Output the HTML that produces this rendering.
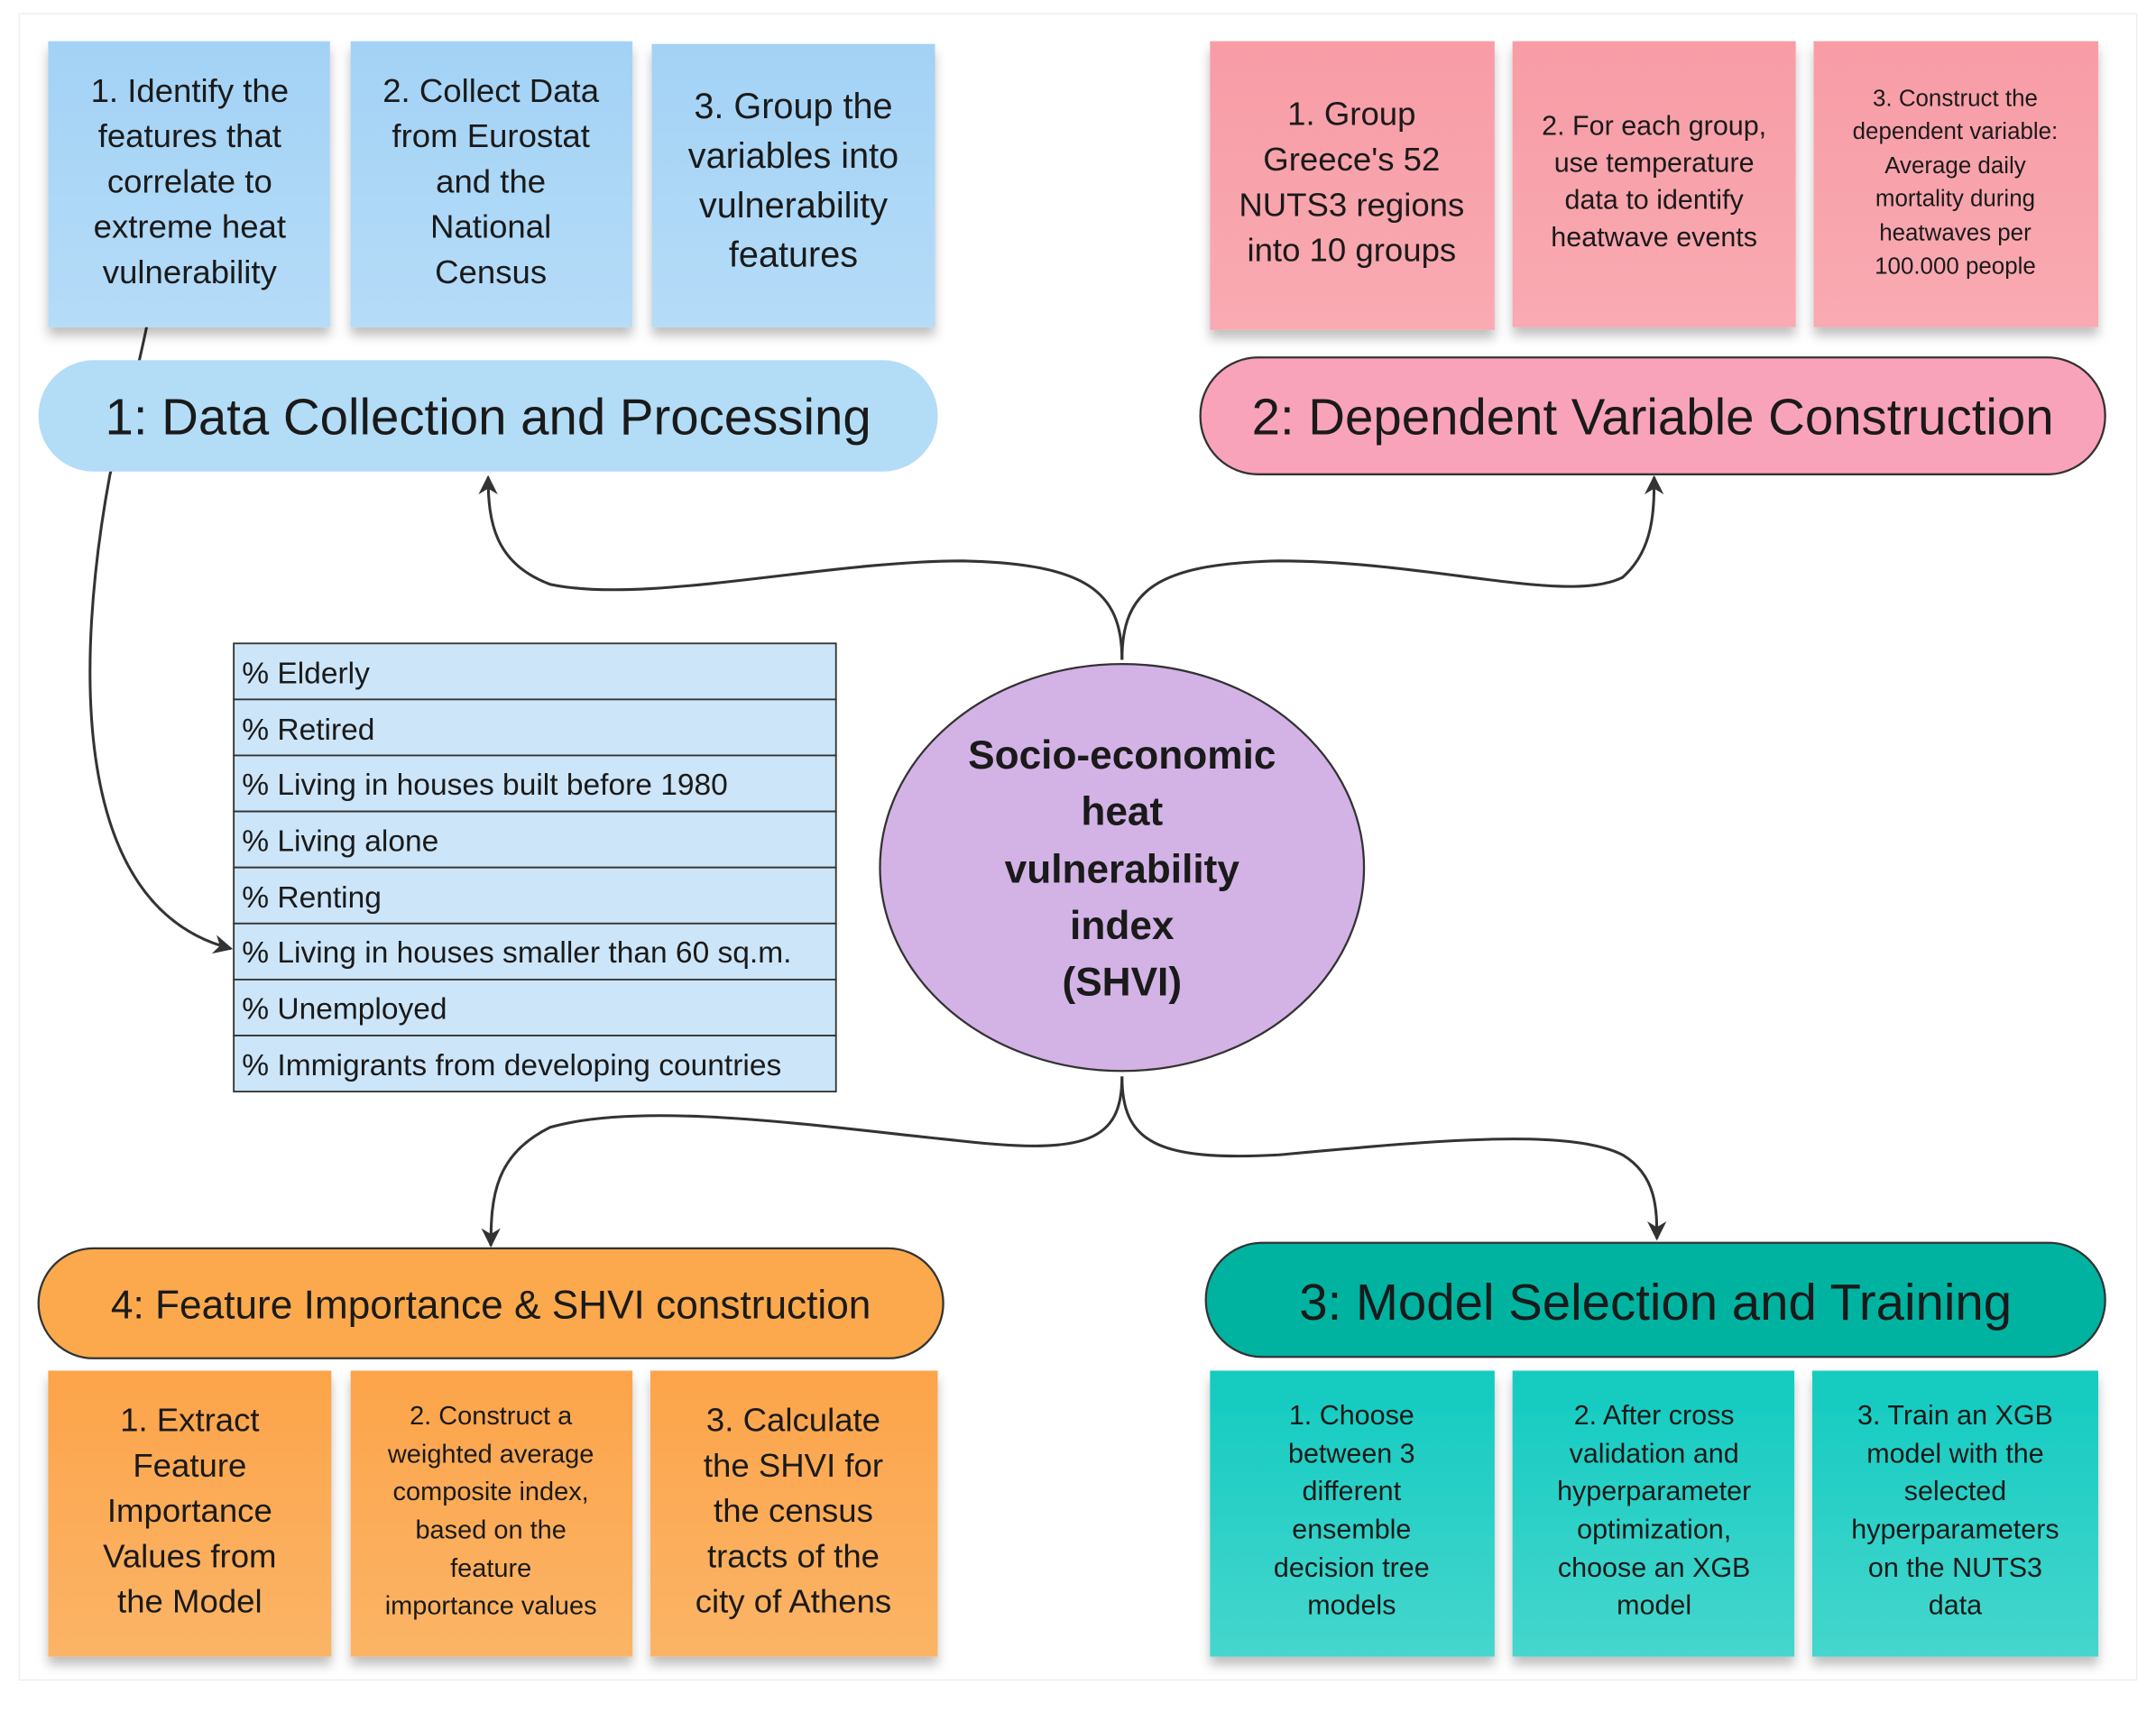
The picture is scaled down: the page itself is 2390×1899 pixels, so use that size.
<!DOCTYPE html>
<html><head><meta charset="utf-8"><style>
html,body{margin:0;padding:0;background:#fff}
svg{display:block}
text{font-family:"Liberation Sans","DejaVu Sans",sans-serif;fill:#1a1a1a}
</style></head><body>
<svg width="2390" height="1899" viewBox="0 0 1568 1246" preserveAspectRatio="none" xmlns="http://www.w3.org/2000/svg">
<defs>
<linearGradient id="gb" x1="0" y1="0" x2="0" y2="1"><stop offset="0" stop-color="#a3d2f5"/><stop offset="1" stop-color="#b5dcf8"/></linearGradient>
<linearGradient id="gp" x1="0" y1="0" x2="0" y2="1"><stop offset="0" stop-color="#f89ca6"/><stop offset="1" stop-color="#f9aab2"/></linearGradient>
<linearGradient id="go" x1="0" y1="0" x2="0" y2="1"><stop offset="0" stop-color="#fca44a"/><stop offset="1" stop-color="#fbb466"/></linearGradient>
<linearGradient id="gt" x1="0" y1="0" x2="0" y2="1"><stop offset="0" stop-color="#12cbc0"/><stop offset="1" stop-color="#45d6cd"/></linearGradient>
<filter id="sh" x="-10%" y="-10%" width="120%" height="130%"><feDropShadow dx="0" dy="6" stdDeviation="4" flood-color="#000" flood-opacity="0.25"/></filter>
<marker id="ar" viewBox="0 0 10 10" refX="9" refY="5" markerWidth="7" markerHeight="7" orient="auto"><path d="M0,0 L10,5 L0,10 L3,5 z" fill="#333"/></marker>
</defs>
<rect x="14" y="10" width="1540" height="1212" fill="#fff" stroke="#eee"/>

<g fill="none" stroke="#333" stroke-width="2">
<path d="M816,480 C816,430 790,410 700,408 C600,408 470,440 400,425 C360,410 355,380 355,347" marker-end="url(#ar)"/>
<path d="M816,480 C816,430 840,410 930,408 C1040,408 1140,440 1180,420 C1203,400 1203,370 1203,347" marker-end="url(#ar)"/>
<path d="M816,783 C816,830 790,840 700,830 C600,820 470,800 400,820 C360,840 357,870 357,906" marker-end="url(#ar)"/>
<path d="M816,783 C816,830 840,845 930,840 C1040,830 1140,820 1180,840 C1205,855 1205,880 1205,901" marker-end="url(#ar)"/>
<path d="M107,236 C100,270 90,310 80,345 C55,480 50,660 168,690" marker-end="url(#ar)"/>
</g>

<g filter="url(#sh)">
<rect x="35" y="30" width="205" height="208" fill="url(#gb)"/>
<rect x="255" y="30" width="205" height="208" fill="url(#gb)"/>
<rect x="474" y="32" width="206" height="206" fill="url(#gb)"/>
<rect x="880" y="30" width="207" height="210" fill="url(#gp)"/>
<rect x="1100" y="30" width="206" height="208" fill="url(#gp)"/>
<rect x="1319" y="30" width="207" height="208" fill="url(#gp)"/>
<rect x="35" y="997" width="206" height="208" fill="url(#go)"/>
<rect x="255" y="997" width="205" height="208" fill="url(#go)"/>
<rect x="473" y="997" width="209" height="208" fill="url(#go)"/>
<rect x="880" y="997" width="207" height="208" fill="url(#gt)"/>
<rect x="1100" y="997" width="205" height="208" fill="url(#gt)"/>
<rect x="1318" y="997" width="208" height="208" fill="url(#gt)"/>
</g>
<g font-size="24" text-anchor="middle">
<text x="138" y="74">1. Identify the</text><text x="138" y="107">features that</text><text x="138" y="140">correlate to</text><text x="138" y="173">extreme heat</text><text x="138" y="206">vulnerability</text>
<text x="357" y="74">2. Collect Data</text><text x="357" y="107">from Eurostat</text><text x="357" y="140">and the</text><text x="357" y="173">National</text><text x="357" y="206">Census</text>
<text x="577" y="86" font-size="26">3. Group the</text><text x="577" y="122" font-size="26">variables into</text><text x="577" y="158" font-size="26">vulnerability</text><text x="577" y="194" font-size="26">features</text>
<text x="983" y="91">1. Group</text><text x="983" y="124">Greece's 52</text><text x="983" y="157">NUTS3 regions</text><text x="983" y="190">into 10  groups</text>
<text x="1203" y="98" font-size="20">2. For each group,</text><text x="1203" y="125" font-size="20">use temperature</text><text x="1203" y="152" font-size="20">data to identify</text><text x="1203" y="179" font-size="20">heatwave events</text>
<text x="1422" y="77" font-size="17">3. Construct the</text><text x="1422" y="101" font-size="17">dependent variable:</text><text x="1422" y="126" font-size="17">Average daily</text><text x="1422" y="150" font-size="17">mortality during</text><text x="1422" y="175" font-size="17">heatwaves per</text><text x="1422" y="199" font-size="17">100.000 people</text>
<text x="138" y="1041">1. Extract</text><text x="138" y="1074">Feature</text><text x="138" y="1107">Importance</text><text x="138" y="1140">Values from</text><text x="138" y="1173">the Model</text>
<text x="357" y="1036" font-size="19">2. Construct a</text><text x="357" y="1064" font-size="19">weighted average</text><text x="357" y="1091" font-size="19">composite index,</text><text x="357" y="1119" font-size="19">based on the</text><text x="357" y="1147" font-size="19">feature</text><text x="357" y="1174" font-size="19">importance values</text>
<text x="577" y="1041">3. Calculate</text><text x="577" y="1074">the SHVI for</text><text x="577" y="1107">the census</text><text x="577" y="1140">tracts of the</text><text x="577" y="1173">city of Athens</text>
<text x="983" y="1036" font-size="20">1. Choose</text><text x="983" y="1064" font-size="20">between 3</text><text x="983" y="1091" font-size="20">different</text><text x="983" y="1119" font-size="20">ensemble</text><text x="983" y="1147" font-size="20">decision tree</text><text x="983" y="1174" font-size="20">models</text>
<text x="1203" y="1036" font-size="20">2. After cross</text><text x="1203" y="1064" font-size="20">validation and</text><text x="1203" y="1091" font-size="20">hyperparameter</text><text x="1203" y="1119" font-size="20">optimization,</text><text x="1203" y="1147" font-size="20">choose an XGB</text><text x="1203" y="1174" font-size="20">model</text>
<text x="1422" y="1036" font-size="20">3. Train an XGB</text><text x="1422" y="1064" font-size="20">model with the</text><text x="1422" y="1091" font-size="20">selected</text><text x="1422" y="1119" font-size="20">hyperparameters</text><text x="1422" y="1147" font-size="20">on the NUTS3</text><text x="1422" y="1174" font-size="20">data</text>
</g>

<rect x="28" y="262" width="654" height="81" rx="40" fill="#b3dcf7"/>
<text x="355" y="316" font-size="37" text-anchor="middle">1: Data Collection and Processing</text>
<rect x="873" y="260" width="658" height="85" rx="42" fill="#f9a3bb" stroke="#333" stroke-width="1.5"/>
<text x="1202" y="316" font-size="37" text-anchor="middle">2: Dependent Variable Construction</text>
<rect x="28" y="908" width="658" height="80" rx="40" fill="#fba94c" stroke="#333" stroke-width="1.5"/>
<text x="357" y="959" font-size="29" text-anchor="middle">4: Feature Importance &amp; SHVI construction</text>
<rect x="877" y="904" width="654" height="83" rx="41" fill="#00b3a0" stroke="#333" stroke-width="1.5"/>
<text x="1204" y="960" font-size="37" text-anchor="middle">3: Model Selection and Training</text>

<g stroke="#333" stroke-width="1.2" fill="#cce5f9">
<rect x="170" y="468" width="438" height="40.75"/><rect x="170" y="508.75" width="438" height="40.75"/>
<rect x="170" y="549.5" width="438" height="40.75"/><rect x="170" y="590.25" width="438" height="40.75"/>
<rect x="170" y="631" width="438" height="40.75"/><rect x="170" y="671.75" width="438" height="40.75"/>
<rect x="170" y="712.5" width="438" height="40.75"/><rect x="170" y="753.25" width="438" height="40.75"/>
</g>
<g font-size="22">
<text x="176" y="497">% Elderly</text><text x="176" y="538">% Retired</text>
<text x="176" y="578">% Living in houses built before 1980</text><text x="176" y="619">% Living alone</text>
<text x="176" y="660">% Renting</text><text x="176" y="700">% Living in houses smaller than 60 sq.m.</text>
<text x="176" y="741">% Unemployed</text><text x="176" y="782">% Immigrants from developing countries</text>
</g>

<ellipse cx="816" cy="631" rx="176" ry="148" fill="#d3b3e6" stroke="#333" stroke-width="1.5"/>
<g font-size="29" font-weight="bold" text-anchor="middle">
<text x="816" y="559">Socio-economic</text><text x="816" y="600">heat</text><text x="816" y="642">vulnerability</text><text x="816" y="683">index</text><text x="816" y="724">(SHVI)</text>
</g>
</svg>
</body></html>
